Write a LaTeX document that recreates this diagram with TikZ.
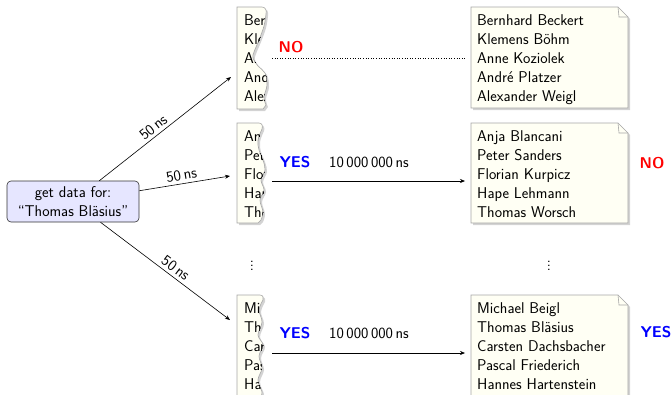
\documentclass[tikz,border=0pt]{standalone}
\usepackage{fontspec}
\renewcommand{\familydefault}{\sfdefault}
\usetikzlibrary{arrows.meta,shadows}
\definecolor{ivory}{HTML}{FFFFF4}
\definecolor{qfill}{HTML}{E6E6FF}
\definecolor{nored}{HTML}{FF0000}
\definecolor{yesblue}{HTML}{0000FF}
\begin{document}
\begin{tikzpicture}[x=1pt,y=-1pt,
  txt/.style={font=\fontsize{15.6}{19.2}\selectfont, align=left, inner sep=0pt, anchor=north west},
  docbox/.style={fill=ivory, draw=gray!70, line width=0.6pt,
    drop shadow={shadow xshift=2pt, shadow yshift=-2pt, opacity=0.35, fill=gray}},
  arr/.style={-{Stealth[length=5pt,width=4pt]}, line width=0.6pt},
  lbl/.style={font=\fontsize{15.2}{17}\selectfont, sloped, above, inner sep=3pt},
  verdict/.style={font=\fontsize{15.6}{18}\selectfont\bfseries},
  plain/.style={font=\fontsize{15.6}{18}\selectfont}
]
\useasboundingbox (0,0) rectangle (672,394);
\clip (0,0) rectangle (672,394);

% query node
\node[draw=black!80, fill=qfill, rounded corners=4pt, minimum width=132pt, minimum height=41pt,
  align=center, font=\fontsize{15.6}{19}\selectfont, inner sep=2pt, line width=0.6pt] (q) at (73,201.5)
  {get data for:\\``Thomas Bläsius''};

% torn boxes (left)
\def\tornA{(237,109) -- (237,7) -- (262,7) .. controls (265,7) and (267,10) .. (266,14)
  -- plot[smooth, tension=0.6] coordinates {(266,14) (264,26) (259,40) (254,52) (253,58) (258,66) (265,73) (267,85) (264,97) (266,105)} -- (263,109) -- cycle}
\def\tornB{(237,223) -- (237,123) -- (259,123) .. controls (262,123) and (263,126) .. (262,129)
  -- plot[smooth, tension=0.6] coordinates {(262,129) (258,140) (259,150) (263,160) (265,170) (261,180) (264,190) (260,200) (263,212) (261,220)} -- (258,223) -- cycle}
\def\tornC{(237,396) -- (237,295) -- (260,295) .. controls (263,295) and (264,298) .. (263,300)
  -- plot[smooth, tension=0.6] coordinates {(263,300) (259,310) (262,322) (258,335) (263,345) (259,356) (262,368) (258,380) (262,392) (261,396)} -- cycle}

\path[docbox] \tornA;
\begin{scope}\clip \tornA;
\node[txt] (l1) at (244,14) {Bernhard Beckert\\Klemens Böhm\\Anne Koziolek\\André Platzer\\Alexander Weigl};
\end{scope}
\path[docbox] \tornB;
\begin{scope}\clip \tornB;
\node[txt] (l2) at (244,130) {Anja Blancani\\Peter Sanders\\Florian Kurpicz\\Hape Lehmann\\Thomas Worsch};
\end{scope}
\path[docbox] \tornC;
\begin{scope}\clip \tornC;
\node[txt] (l3) at (244,302) {Michael Beigl\\Thomas Bläsius\\Carsten Dachsbacher\\Pascal Friederich\\Hannes Hartenstein};
\end{scope}

% document boxes (right)
\path[docbox] (471,7) -- (618,7) -- (628,17) -- (628,108) -- (471,108) -- cycle;
\draw[gray!70, line width=0.6pt] (618,7) -- (619,17) -- (628,17);
\node[txt] (r1) at (477,14) {Bernhard Beckert\\Klemens Böhm\\Anne Koziolek\\André Platzer\\Alexander Weigl};

\path[docbox] (471,123) -- (618,123) -- (628,133) -- (628,223) -- (471,223) -- cycle;
\draw[gray!70, line width=0.6pt] (618,123) -- (619,133) -- (628,133);
\node[txt] (r2) at (477,130) {Anja Blancani\\Peter Sanders\\Florian Kurpicz\\Hape Lehmann\\Thomas Worsch};

\path[docbox] (471,295) -- (618,295) -- (628,305) -- (628,396) -- (471,396) -- cycle;
\draw[gray!70, line width=0.6pt] (618,295) -- (619,305) -- (628,305);
\node[txt] (r3) at (477,302) {Michael Beigl\\Thomas Bläsius\\Carsten Dachsbacher\\Pascal Friederich\\Hannes Hartenstein};

% arrows from query
\coordinate (e1) at (231,77);
\coordinate (e2) at (230,176);
\coordinate (e3) at (230,320);
\draw[arr] (q) -- node[lbl, pos=0.45] {50\,ns} (e1);
\draw[arr] (q) -- node[lbl, pos=0.48] {50\,ns} (e2);
\draw[arr] (q) -- node[lbl, pos=0.54] {50\,ns} (e3);

% row 1: NO
\coordinate (s1) at (272,58);
\coordinate (t1) at (465,58);
\draw[dotted, line width=0.6pt] (s1) -- (t1);
\node[verdict, text=nored] (no1) at (291,47) {NO};

% row 2: YES
\coordinate (s2) at (272,181);
\coordinate (t2) at (465,181);
\draw[arr] (s2) -- (t2);
\node[verdict, text=yesblue] (yes2) at (295,162) {YES};
\node[plain] (ns2) at (369,162) {10\,000\,000\,ns};
\node[verdict, text=nored] (no2) at (652,163) {NO};

% row 3: YES
\coordinate (s3) at (272,353);
\coordinate (t3) at (465,353);
\draw[arr] (s3) -- (t3);
\node[verdict, text=yesblue] (yes3) at (295,333) {YES};
\node[plain] (ns3) at (369,333) {10\,000\,000\,ns};
\node[verdict, text=yesblue] (yes4) at (656,332) {YES};

% dots
\node[font=\fontsize{15.6}{18}\selectfont] (d1) at (252,263) {$\vdots$};
\node[font=\fontsize{15.6}{18}\selectfont] (d2) at (549,263) {$\vdots$};
\end{tikzpicture}
\end{document}
